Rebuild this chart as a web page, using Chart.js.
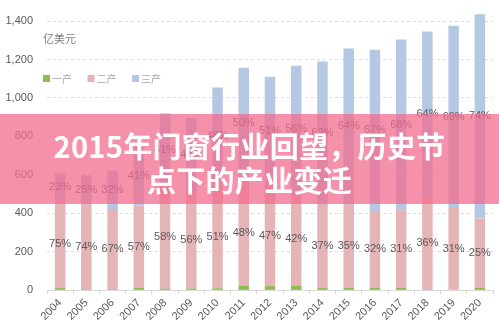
<!DOCTYPE html>
<html>
<head>
<meta charset="utf-8">
<script src="https://cdn.jsdelivr.net/npm/chart.js@4/dist/chart.umd.min.js"></script>
<style>
  html, body { margin: 0; padding: 0; background: #ffffff; }
  #wrap { position: relative; width: 499px; height: 329px; overflow: hidden; }
  #c { position: absolute; left: 0; top: 0; }
  #banner {
    position: absolute; left: 0; top: 114px; width: 499px; height: 90px;
    background: rgba(242, 108, 142, 0.75);
    color: #ffffff; font-family: "Noto Sans CJK SC", "Noto Sans", sans-serif;
    font-weight: 700; font-size: 29px; line-height: 34px; text-align: center;
    box-sizing: border-box; padding-top: 14px; letter-spacing: 0.3px;
  }
</style>
</head>
<body>
<div id="wrap">
  <canvas id="c" width="499" height="329"></canvas>
  <div id="banner">2015年门窗行业回望，历史节<br>点下的产业变迁</div>
</div>
<script>
const years = ['2004','2005','2006','2007','2008','2009','2010','2011','2012','2013','2014','2015','2016','2017','2018','2019','2020'];
const seriesNames = ['一产', '二产', '三产'];
const primary   = [12, 6, 6, 15, 9, 9, 11, 23, 22, 23, 12, 13, 13, 13, 5, 3, 14];
const secondary = [455, 443, 417, 425, 534, 502, 538, 555, 522, 491, 440, 440, 400, 404, 482, 425, 359];
const tertiary  = [140, 149, 199, 306, 377, 386, 506, 579, 566, 654, 737, 804, 838, 887, 858, 947, 1062];
const secondaryPct = ['75%','74%','67%','57%','58%','56%','51%','48%','47%','42%','37%','35%','32%','31%','36%','31%','25%'];
const tertiaryPct  = ['23%','25%','32%','41%','41%','43%','48%','50%','51%','56%','62%','64%','67%','68%','64%','69%','74%'];
const yTicks = [0, 200, 400, 600, 800, 1000, 1200, 1400];
const unitLabel = '亿美元';

const colors = ['#8dbd4f', '#e5b4b7', '#b4c7e3'];

const segLabels = {
  id: 'segLabels',
  afterDatasetsDraw(chart) {
    const ctx = chart.ctx;
    ctx.save();
    ctx.font = '11px "Liberation Sans", Arial, sans-serif';
    ctx.fillStyle = '#595959';
    ctx.textAlign = 'center';
    ctx.textBaseline = 'middle';
    const sets = [[1, secondaryPct], [2, tertiaryPct]];
    sets.forEach(([di, labels]) => {
      const meta = chart.getDatasetMeta(di);
      meta.data.forEach((el, i) => {
        const p = el.getProps(['x', 'y', 'base'], true);
        ctx.fillText(labels[i], p.x, (p.y + p.base) / 2);
      });
    });
    ctx.restore();
  }
};

const innerLegend = {
  id: 'innerLegend',
  afterDraw(chart) {
    const ctx = chart.ctx;
    const a = chart.chartArea;
    ctx.save();
    ctx.font = '11px "Noto Sans CJK SC", sans-serif';
    ctx.fillStyle = '#808080';
    ctx.textBaseline = 'middle';
    ctx.textAlign = 'left';
    ctx.fillText(unitLabel, a.left - 4, 39);
    ctx.font = '10px "Noto Sans CJK SC", sans-serif';
    chart.data.datasets.forEach((ds, i) => {
      const x = a.left - 4 + i * 44.5;
      ctx.fillStyle = ds.backgroundColor;
      ctx.fillRect(x, 75, 7, 7);
      ctx.fillStyle = '#a6a6a6';
      ctx.fillText(ds.label, x + 9, 79);
    });
    ctx.restore();
  }
};

new Chart(document.getElementById('c'), {
  type: 'bar',
  data: {
    labels: years,
    datasets: [
      { label: seriesNames[0], data: primary, backgroundColor: colors[0], clip: false },
      { label: seriesNames[1], data: secondary, backgroundColor: colors[1], clip: false },
      { label: seriesNames[2], data: tertiary, backgroundColor: colors[2], clip: false }
    ]
  },
  options: {
    responsive: false,
    animation: false,
    devicePixelRatio: 1,
    layout: { padding: { top: 21, left: 4, right: 6, bottom: 4 } },
    plugins: { legend: { display: false }, tooltip: { enabled: false } },
    datasets: { bar: { categoryPercentage: 1, barPercentage: 0.4 } },
    scales: {
      x: {
        stacked: true,
        grid: { display: true, drawOnChartArea: false, tickLength: 4, color: '#d9d9d9', offset: true },
        border: { display: true, color: '#d9d9d9' },
        ticks: { maxRotation: 45, minRotation: 45, color: '#595959', font: { size: 11, family: '"Liberation Sans", Arial, sans-serif' }, padding: 2 }
      },
      y: {
        stacked: true,
        min: 0, max: 1400,
        afterBuildTicks(scale) { scale.ticks = yTicks.map(v => ({ value: v })); },
        afterFit(scale) { scale.width = 43; },
        grid: { color: '#dedede', drawTicks: false },
        border: { display: false, dash: [3, 3] },
        ticks: {
          color: '#595959', padding: 14,
          font: { size: 11, family: '"Liberation Sans", Arial, sans-serif' },
          callback: v => v.toLocaleString('en-US')
        }
      }
    }
  },
  plugins: [segLabels, innerLegend]
});
</script>
</body>
</html>
